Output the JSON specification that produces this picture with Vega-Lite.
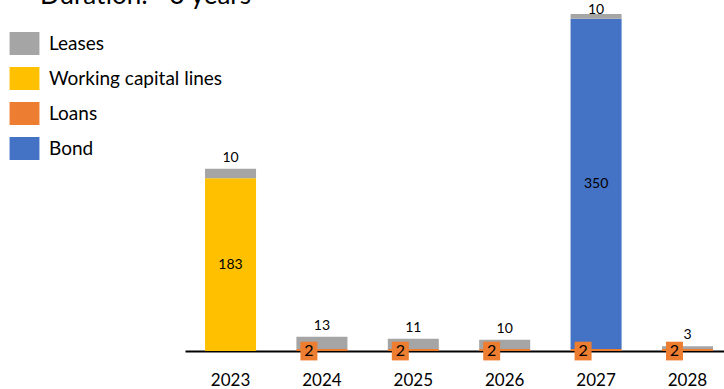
{
  "$schema": "https://vega.github.io/schema/vega-lite/v6.json",
  "autosize": {"type": "none"},
  "width": 539,
  "height": 337,
  "padding": {"left": 185, "top": 14, "right": 0, "bottom": 38},
  "background": "white",
  "title": {
    "text": "Duration: ~3 years",
    "anchor": "start",
    "frame": "group",
    "dx": -145,
    "dy": 37,
    "baseline": "alphabetic",
    "offset": 10,
    "font": "Lato",
    "fontSize": 26,
    "fontWeight": "normal",
    "color": "#000000"
  },
  "data": {
    "values": [
      {"year": "2023", "type": "Working capital lines", "value": 183},
      {"year": "2023", "type": "Leases", "value": 10},
      {"year": "2024", "type": "Loans", "value": 2},
      {"year": "2024", "type": "Leases", "value": 13},
      {"year": "2025", "type": "Loans", "value": 2},
      {"year": "2025", "type": "Leases", "value": 11},
      {"year": "2026", "type": "Loans", "value": 2},
      {"year": "2026", "type": "Leases", "value": 10},
      {"year": "2027", "type": "Loans", "value": 2},
      {"year": "2027", "type": "Bond", "value": 350},
      {"year": "2027", "type": "Leases", "value": 10},
      {"year": "2028", "type": "Loans", "value": 2},
      {"year": "2028", "type": "Leases", "value": 3}
    ]
  },
  "transform": [
    {"calculate": "indexof(['Loans','Bond','Working capital lines','Leases'], datum.type)", "as": "ord"},
    {"stack": "value", "groupby": ["year"], "sort": [{"field": "ord", "order": "ascending"}], "as": ["y0", "y1"]},
    {"calculate": "(datum.y0 + datum.y1) / 2", "as": "mid"},
    {"calculate": "min(datum.y1, 350)", "as": "ly"}
  ],
  "encoding": {
    "x": {
      "field": "year",
      "type": "ordinal",
      "scale": {"range": [0, 548], "paddingInner": 0.4416, "paddingOuter": 0.219},
      "axis": {
        "title": null,
        "domain": true,
        "domainColor": "#000000",
        "domainWidth": 2,
        "ticks": false,
        "grid": false,
        "labelAngle": 0,
        "labelFont": "Lato",
        "labelFontSize": 17,
        "labelColor": "#000000",
        "labelPadding": 21
      }
    }
  },
  "layer": [
    {
      "mark": {"type": "bar", "clip": true},
      "encoding": {
        "y": {"field": "y1", "type": "quantitative", "scale": {"domain": [0, 357], "clamp": true, "nice": false}, "axis": null},
        "y2": {"field": "y0"},
        "color": {
          "field": "type",
          "type": "nominal",
          "scale": {
            "domain": ["Leases", "Working capital lines", "Loans", "Bond"],
            "range": ["#A5A5A5", "#FFC000", "#ED7D31", "#4472C4"]
          },
          "legend": {
            "title": null,
            "orient": "none",
            "legendX": -172,
            "legendY": 18,
            "padding": 0,
            "symbolType": "M-1.3,-1H1.3V1H-1.3Z",
            "symbolSize": 529,
            "symbolStrokeWidth": 0,
            "symbolOpacity": 1,
            "labelFont": "Lato",
            "labelFontSize": 19,
            "labelColor": "#000000",
            "labelOffset": 13,
            "rowPadding": 12,
            "labelLimit": 300
          }
        }
      }
    },
    {
      "transform": [{"filter": "datum.type === 'Leases'"}],
      "mark": {"type": "text", "baseline": "bottom", "dy": -4, "font": "Lato", "fontSize": 14, "color": "#000000"},
      "encoding": {
        "y": {"field": "ly", "type": "quantitative"},
        "text": {"field": "value", "type": "quantitative"}
      }
    },
    {
      "transform": [{"filter": "datum.type === 'Bond' || datum.type === 'Working capital lines'"}],
      "mark": {"type": "text", "baseline": "middle", "font": "Lato", "fontSize": 14, "color": "#000000"},
      "encoding": {
        "y": {"field": "mid", "type": "quantitative"},
        "text": {"field": "value", "type": "quantitative"}
      }
    },
    {
      "transform": [{"filter": "datum.type === 'Loans'"}],
      "mark": {"type": "point", "shape": "M-1,-1.1H1V1.1H-1Z", "size": 289, "filled": true, "opacity": 1, "color": "#ED7D31", "xOffset": -13, "yOffset": 1},
      "encoding": {
        "y": {"field": "mid", "type": "quantitative"}
      }
    },
    {
      "transform": [{"filter": "datum.type === 'Loans'"}],
      "mark": {"type": "text", "baseline": "middle", "font": "Lato", "fontSize": 16, "color": "#000000", "xOffset": -13, "yOffset": 1},
      "encoding": {
        "y": {"field": "mid", "type": "quantitative"},
        "text": {"field": "value", "type": "quantitative"}
      }
    }
  ],
  "config": {
    "view": {"stroke": null}
  }
}
